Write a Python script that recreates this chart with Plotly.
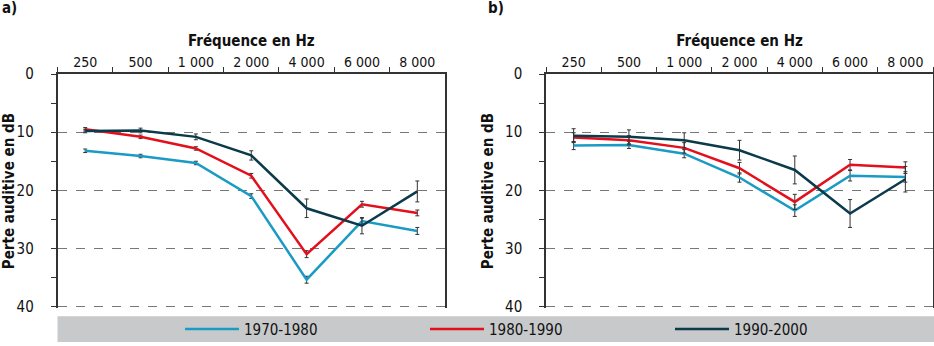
import plotly.graph_objects as go

freqs = ["250", "500", "1 000", "2 000", "4 000", "6 000", "8 000"]
periods = ["1970-1980", "1980-1990", "1990-2000"]
colors = ["#1a9bc4", "#e3101b", "#0b3a4a"]

# Panel a
a_vals = [
    [13.2, 14.1, 15.3, 21.0, 35.4, 25.3, 27.0],
    [9.5, 10.8, 12.8, 17.5, 31.0, 22.4, 23.9],
    [9.8, 9.7, 10.8, 14.0, 23.1, 26.1, 20.2],
]
a_err = [
    [0.3, 0.3, 0.3, 0.4, 0.6, 0.5, 0.6],
    [0.3, 0.3, 0.3, 0.4, 0.6, 0.5, 0.5],
    [0.3, 0.4, 0.5, 0.8, 1.6, 1.4, 1.8],
]
# Panel b
b_vals = [
    [12.3, 12.2, 13.7, 17.8, 23.5, 17.5, 17.7],
    [10.9, 11.4, 12.7, 16.2, 22.0, 15.6, 16.1],
    [10.6, 10.8, 11.4, 13.1, 16.5, 24.0, 18.1],
]
b_err = [
    [0.7, 0.6, 0.7, 0.8, 1.0, 0.9, 0.9],
    [0.8, 0.8, 0.9, 1.0, 1.3, 0.9, 1.0],
    [1.2, 1.2, 1.3, 1.7, 2.4, 2.4, 2.2],
]

FONT = "DejaVu Sans Condensed"

def f(size=16):
    return dict(family=FONT, size=size, color="#111")

fig = go.Figure()
for panel, (vals, errs) in enumerate([(a_vals, a_err), (b_vals, b_err)]):
    xa = "x" if panel == 0 else "x2"
    ya = "y" if panel == 0 else "y2"
    for i, p in enumerate(periods):
        fig.add_trace(go.Scatter(
            x=freqs, y=vals[i], mode="lines", name=p,
            line=dict(color=colors[i], width=2.5),
            error_y=dict(type="data", array=errs[i], visible=True,
                         color="#333333", thickness=1, width=2),
            xaxis=xa, yaxis=ya, showlegend=(panel == 0),
        ))

YMAX = 40.3

def xaxis(domain, anchor):
    return dict(domain=domain, anchor=anchor, type="category", side="top",
                showline=True, linecolor="#333333", linewidth=1.5,
                ticks="outside", ticklen=5, tickcolor="#333333", tickson="boundaries",
                showgrid=False, range=[-0.5, 6.5], tickangle=0, automargin=False,
                tickfont=f(14), ticklabelstandoff=0,
                title=dict(text="<b>Fréquence en Hz</b>", standoff=4, font=f(15)),
                fixedrange=True)

def yaxis(domain, anchor):
    return dict(domain=domain, anchor=anchor, range=[YMAX, 0], tickvals=[0, 10, 20, 30, 40],
                showline=True, mirror=True, linecolor="#333333", linewidth=1.5,
                ticks="outside", ticklen=5, tickcolor="#333333",
                minor=dict(tickvals=[5, 15, 25, 35], ticks="outside", ticklen=5, tickcolor="#333333"),
                showgrid=True, gridcolor="#777777", griddash="dash", gridwidth=1,
                zeroline=False, ticklabelstandoff=14, automargin=False,
                tickfont=f(15),
                title=dict(text="<b>Perte auditive en dB</b>", standoff=8, font=f(15)),
                fixedrange=True)

top_px, bot40_px = 75, 310
bot_px = top_px + (bot40_px - top_px) * YMAX / 40
ydom = [1 - bot_px / 346, 1 - top_px / 346]
fig.update_layout(
    width=934, height=346,
    margin=dict(l=0, r=0, t=0, b=0),
    paper_bgcolor="white", plot_bgcolor="white",
    xaxis=xaxis([57.5 / 934, 445 / 934], "y"),
    yaxis=yaxis(ydom, "x"),
    xaxis2=xaxis([546 / 934, 933 / 934], "y2"),
    yaxis2=yaxis(ydom, "x2"),
    showlegend=True,
    legend=dict(orientation="h", x=180 / 934, xanchor="left", y=1 - 333 / 346, yanchor="middle",
                bgcolor="rgba(0,0,0,0)", itemwidth=54, entrywidth=176,
                font=f(15), itemclick=False),
    shapes=[dict(type="rect", xref="paper", yref="paper", x0=57.5 / 934, x1=1,
                 y0=0, y1=1 - 320 / 346, fillcolor="#c8c9cb", line=dict(width=0), layer="below")],
    annotations=[
        dict(text="<b>a)</b>", xref="paper", yref="paper", x=0, y=1.01, xanchor="left", yanchor="top",
             showarrow=False, font=f(15)),
        dict(text="<b>b)</b>", xref="paper", yref="paper", x=486 / 934, y=1.01, xanchor="left", yanchor="top",
             showarrow=False, font=f(15)),
    ],
)

fig.write_html("out.html")
